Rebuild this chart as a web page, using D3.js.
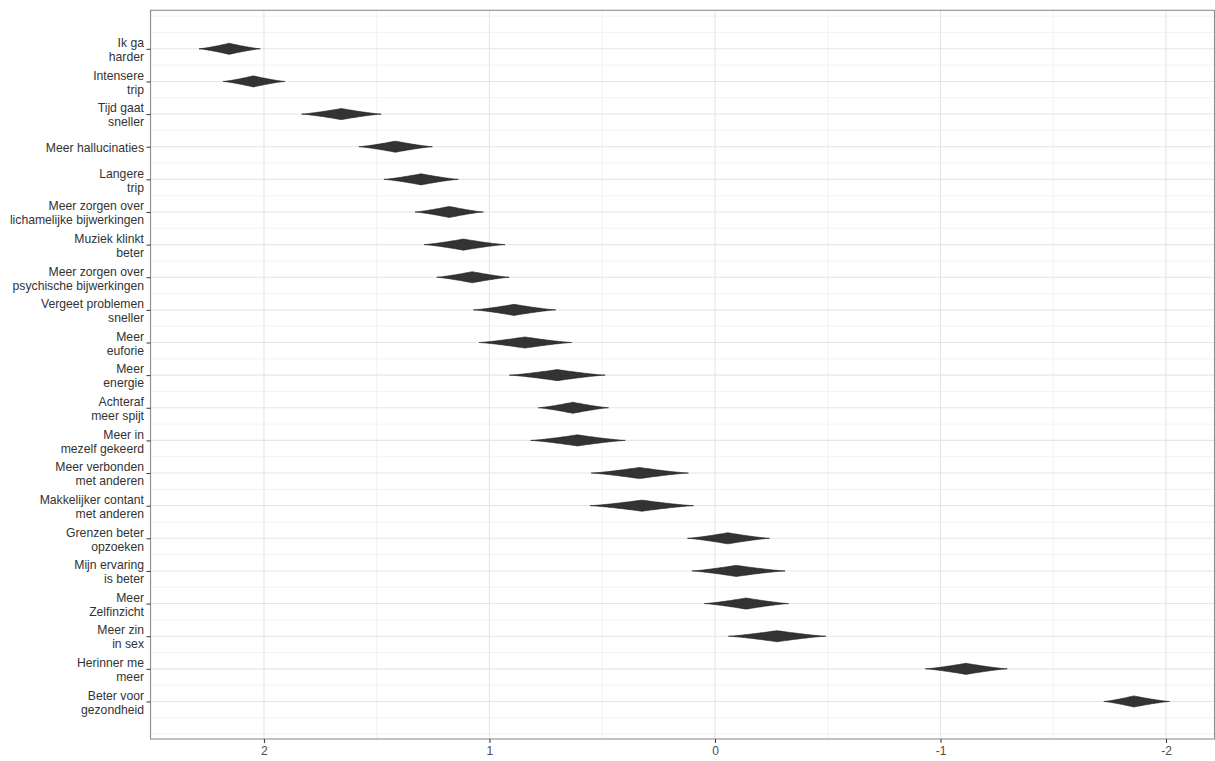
<!DOCTYPE html>
<html>
<head>
<meta charset="utf-8">
<script src="https://cdn.jsdelivr.net/npm/d3@7"></script>
<style>
  html, body { margin: 0; padding: 0; background: #fff; }
  svg { display: block; }
</style>
</head>
<body>
<svg id="chart" width="1215" height="761"></svg>
<script>
// ---- Data (top to bottom) ----
const categories = [
  "Ik ga\nharder",
  "Intensere\ntrip",
  "Tijd gaat\nsneller",
  "Meer hallucinaties",
  "Langere\ntrip",
  "Meer zorgen over\nlichamelijke bijwerkingen",
  "Muziek klinkt\nbeter",
  "Meer zorgen over\npsychische bijwerkingen",
  "Vergeet problemen\nsneller",
  "Meer\neuforie",
  "Meer\nenergie",
  "Achteraf\nmeer spijt",
  "Meer in\nmezelf gekeerd",
  "Meer verbonden\nmet anderen",
  "Makkelijker contant\nmet anderen",
  "Grenzen beter\nopzoeken",
  "Mijn ervaring\nis beter",
  "Meer\nZelfinzicht",
  "Meer zin\nin sex",
  "Herinner me\nmeer",
  "Beter voor\ngezondheid"
];
const estimate = [2.154, 2.047, 1.657, 1.417, 1.303, 1.178, 1.116, 1.076, 0.891, 0.843, 0.699,
                  0.630, 0.610, 0.335, 0.324, -0.057, -0.094, -0.138, -0.275, -1.113, -1.857];
const upper    = [2.288, 2.181, 1.833, 1.579, 1.468, 1.330, 1.290, 1.234, 1.071, 1.046, 0.912,
                  0.783, 0.817, 0.549, 0.554, 0.122, 0.102, 0.047, -0.060, -0.933, -1.724];
const lower    = [2.016, 1.907, 1.480, 1.253, 1.138, 1.027, 0.931, 0.912, 0.706, 0.635, 0.487,
                  0.472, 0.398, 0.118, 0.095, -0.242, -0.311, -0.326, -0.492, -1.296, -2.016];
const xTicks = [2, 1, 0, -1, -2];
const xMinor = [2.5, 1.5, 0.5, -0.5, -1.5];

// ---- Layout ----
const svg = d3.select("#chart");
const pLeft = 150.5, pRight = 1214.5, pTop = 10.3, pBottom = 739;

const x = d3.scaleLinear().domain([2.503, -2.215]).range([pLeft, pRight]);
const n = categories.length;
const y = d3.scaleLinear().domain([-0.15, 22.18]).range([pBottom, pTop]);
const pos = i => n - i; // top row -> 21

const g = svg.append("g");

// Grid: minor
const yMajor = d3.range(1, n + 1);
const yMinor = d3.range(0, n + 1.5, 0.5).filter(v => !Number.isInteger(v) || v === 0 || v === n + 1);
g.selectAll("line.yminor").data(yMinor).join("line")
  .attr("x1", pLeft).attr("x2", pRight)
  .attr("y1", d => y(d)).attr("y2", d => y(d))
  .attr("stroke", "#f3f3f3").attr("stroke-width", 1);
g.selectAll("line.xminor").data(xMinor).join("line")
  .attr("x1", d => x(d)).attr("x2", d => x(d))
  .attr("y1", pTop).attr("y2", pBottom)
  .attr("stroke", "#f3f3f3").attr("stroke-width", 1);
// Grid: major
g.selectAll("line.ymajor").data(yMajor).join("line")
  .attr("x1", pLeft).attr("x2", pRight)
  .attr("y1", d => y(d)).attr("y2", d => y(d))
  .attr("stroke", "#e6e6e6").attr("stroke-width", 1.1);
g.selectAll("line.xmajor").data(xTicks).join("line")
  .attr("x1", d => x(d)).attr("x2", d => x(d))
  .attr("y1", pTop).attr("y2", pBottom)
  .attr("stroke", "#e6e6e6").attr("stroke-width", 1.1);

// Diamonds
const halfH = 0.17; // in y units
const prof = t => Math.pow(1 - Math.abs(t), 1.25);
const data = categories.map((c, i) => ({ c, i, est: estimate[i], lo: lower[i], hi: upper[i] }));
function shapePath(d) {
  const yc = y(pos(d.i));
  const hpx = Math.abs(y(pos(d.i) + halfH) - yc);
  const pts = [];
  const N = 30;
  for (let k = 0; k <= N; k++) {
    const t = 1 - k / N;
    const v = d.est + (d.hi - d.est) * t;
    pts.push([x(v), yc - hpx * prof(t)]);
  }
  for (let k = 1; k <= N; k++) {
    const t = k / N;
    const v = d.est + (d.lo - d.est) * t;
    pts.push([x(v), yc - hpx * prof(t)]);
  }
  for (let k = N - 1; k >= 0; k--) {
    const t = k / N;
    const v = d.est + (d.lo - d.est) * t;
    pts.push([x(v), yc + hpx * prof(t)]);
  }
  for (let k = 1; k < N; k++) {
    const t = k / N;
    const v = d.est + (d.hi - d.est) * t;
    pts.push([x(v), yc + hpx * prof(t)]);
  }
  return d3.line()(pts) + "Z";
}
g.selectAll("path.dia").data(data).join("path")
  .attr("class", "dia")
  .attr("d", shapePath)
  .attr("fill", "#333333")
  .attr("stroke", "#1a1a1a")
  .attr("stroke-width", 0.6);

// Panel border
g.append("rect")
  .attr("x", pLeft).attr("y", pTop)
  .attr("width", pRight - pLeft).attr("height", pBottom - pTop)
  .attr("fill", "none").attr("stroke", "#8f8f8f").attr("stroke-width", 1.1);

// X axis
const xAxis = d3.axisBottom(x).tickValues(xTicks).tickSize(4).tickPadding(3)
  .tickFormat(d => String(d));
const gx = svg.append("g").attr("transform", `translate(0,${pBottom})`).call(xAxis);
gx.select(".domain").remove();
gx.selectAll(".tick line").attr("stroke", "#333").attr("stroke-width", 1);
gx.selectAll(".tick text")
  .attr("fill", "#4d4d4d")
  .style("font-family", "'Liberation Sans', Arial, sans-serif")
  .style("font-size", "12px");

// Y axis
const yAxis = d3.axisLeft(y).tickValues(categories.map((c, i) => pos(i)))
  .tickSize(4).tickPadding(3).tickFormat("");
const gy = svg.append("g").attr("transform", `translate(${pLeft},0)`).call(yAxis);
gy.select(".domain").remove();
gy.selectAll(".tick line").attr("stroke", "#333").attr("stroke-width", 1);
gy.selectAll(".tick").each(function(v) {
  const i = n - v;
  const lines = categories[i].split("\n");
  const t = d3.select(this).select("text")
    .attr("x", -6.5).attr("dy", null)
    .attr("text-anchor", "end")
    .attr("fill", "#333")
    .style("font-family", "'Liberation Sans', Arial, sans-serif")
    .style("font-size", "12.2px");
  const lh = 14;
  const y0 = -(lines.length - 1) * lh / 2 + 0.5;
  lines.forEach((ln, k) => {
    t.append("tspan").attr("x", -6.5).attr("y", y0 + k * lh).attr("dy", "0.35em").text(ln);
  });
});
</script>
</body>
</html>
